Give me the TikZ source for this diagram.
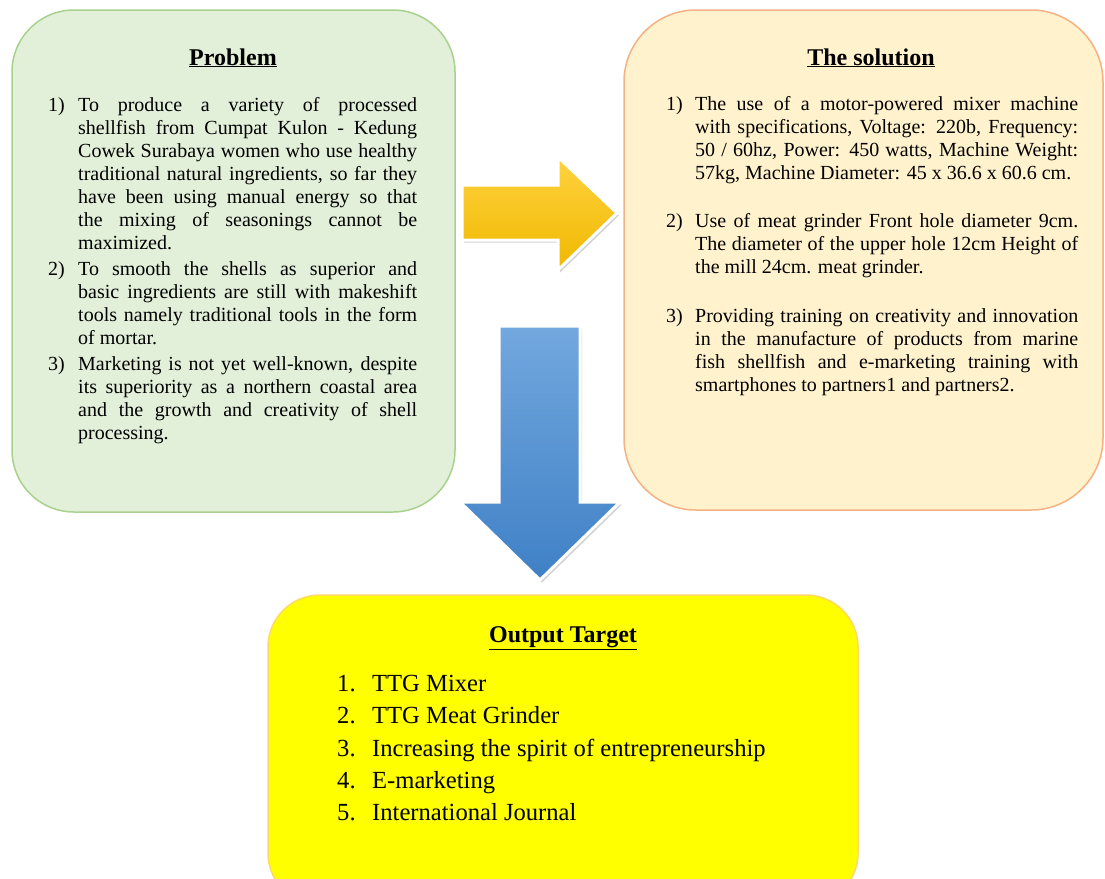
\documentclass[tikz,border=0pt]{standalone}
\usepackage{fontspec}
\setmainfont{Liberation Serif}
\usetikzlibrary{shadows}
\definecolor{gfill}{HTML}{E2EFD9}
\definecolor{gline}{HTML}{A9D18E}
\definecolor{ofill}{HTML}{FFF2CC}
\definecolor{oline}{HTML}{F4B183}
\definecolor{yfill}{HTML}{FFFF00}
\definecolor{yline}{HTML}{FFD966}
\definecolor{atop}{HTML}{FFD23F}
\definecolor{abot}{HTML}{F0B800}
\definecolor{btop}{HTML}{72A8DE}
\definecolor{bbot}{HTML}{3F80C6}
\newcommand{\myitem}[3]{\par\noindent\hangindent=#1\hangafter=1\makebox[#1][l]{#2}#3\par}
\begin{document}
\begin{tikzpicture}[x=1pt,y=-1pt,
  panel/.style={line width=1.5pt},
  title/.style={anchor=base,inner sep=0pt,font=\bfseries\fontsize{24}{28}\selectfont},
  body/.style={anchor=north west,inner sep=0pt,align=justify,font=\fontsize{20}{23}\selectfont},
  bigarrow/.style={draw=white,line width=3pt,line join=miter,
     drop shadow={shadow xshift=2pt,shadow yshift=-2.5pt,opacity=0.35}}]
\useasboundingbox (0,0) rectangle (1105,878);
\clip (0,0) rectangle (1105,878);
% panels
\draw[panel,fill=gfill,draw=gline,rounded corners=62pt] (12,10) rectangle (455,512);
\draw[panel,fill=ofill,draw=oline,rounded corners=72pt] (624,10) rectangle (1103,510);
\draw[panel,fill=yfill,draw=yline,rounded corners=52pt] (268,595) rectangle (858,905);
% arrows
\path[bigarrow,top color=atop,bottom color=abot]
  (462,185) -- (558,185) -- (558,157) -- (617,213) -- (558,270) -- (558,240) -- (462,240) -- cycle;
\path[bigarrow,top color=btop,bottom color=bbot]
  (499,326) -- (580,326) -- (580,502) -- (620,502) -- (540,580) -- (460,502) -- (499,502) -- cycle;
% titles
\node[title] (ptitle) at (233,65) {\underline{Problem}};
\node[title] (stitle) at (871,65) {\underline{The solution}};
\node[title] (otitle) at (563,642) {\underline{Output Target}};
% problem text
\node[body,text width=369pt] (ptext) at (48,85) {%
\setlength{\parskip}{3pt}\hyphenpenalty=10000%
\myitem{30pt}{1)}{To produce a variety of processed\linebreak shellfish from Cumpat Kulon - Kedung\linebreak Cowek Surabaya women who use healthy\linebreak traditional natural ingredients, so far they\linebreak have been using manual energy so that\linebreak the mixing of seasonings cannot be\linebreak maximized.}%
\myitem{30pt}{2)}{To smooth the shells as superior and\linebreak basic ingredients are still with makeshift\linebreak tools namely traditional tools in the form\linebreak of mortar.}%
\myitem{30pt}{3)}{Marketing is not yet well-known, despite\linebreak its superiority as a northern coastal area\linebreak and the growth and creativity of shell\linebreak processing.}};
% solution text
\node[body,text width=412pt] (stext) at (666,87) {%
\setlength{\parskip}{0pt}\hyphenpenalty=10000%
\myitem{29pt}{1)}{The use of a motor-powered mixer machine\linebreak with specifications, Voltage: 220b, Frequency:\linebreak 50 / 60hz, Power: 450 watts, Machine Weight:\linebreak 57kg, Machine Diameter: 45 x 36.6 x 60.6 cm.}%
\vspace{25pt}%
\myitem{29pt}{2)}{Use of meat grinder Front hole diameter 9cm.\linebreak The diameter of the upper hole 12cm Height of\linebreak the mill 24cm. meat grinder.}%
\vspace{26pt}%
\myitem{29pt}{3)}{Providing training on creativity and innovation\linebreak in the manufacture of products from marine\linebreak fish shellfish and e-marketing training with\linebreak smartphones to partners1 and partners2.}};
% output text
\node[anchor=north west,inner sep=0pt,align=left,font=\fontsize{24.6}{32.3}\selectfont] (otext) at (337,675) {%
\makebox[35pt][l]{1.}TTG Mixer\\
\makebox[35pt][l]{2.}TTG Meat Grinder\\
\makebox[35pt][l]{3.}Increasing the spirit of entrepreneurship\\
\makebox[35pt][l]{4.}E-marketing\\
\makebox[35pt][l]{5.}International Journal};
\end{tikzpicture}
\end{document}
